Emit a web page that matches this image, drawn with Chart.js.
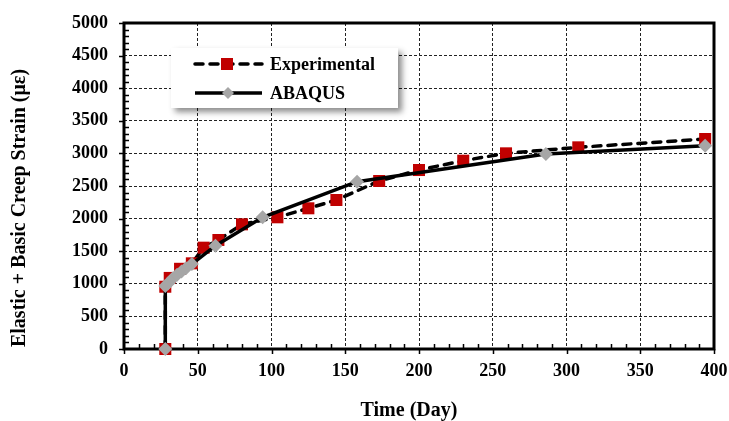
<!DOCTYPE html>
<html>
<head>
<meta charset="utf-8">
<script src="https://cdn.jsdelivr.net/npm/chart.js@4/dist/chart.umd.min.js"></script>
<style>
  html, body { margin: 0; padding: 0; background: #ffffff; }
  #wrap { width: 729px; height: 421px; }
</style>
</head>
<body>
<div id="wrap"><canvas id="c" width="729" height="421"></canvas></div>
<script>
// Measured strain history (days since casting, microstrain)
const expDays   = [28, 28, 31, 38, 46, 54, 64, 80, 104, 125, 144, 173, 200, 230, 259, 308, 394];
const expStrain = [0, 955, 1090, 1230, 1314, 1554, 1672, 1912, 2020, 2158, 2285, 2577, 2745, 2888, 3001, 3093, 3221];

// Finite element prediction
const abqDays   = [28, 28, 30, 33, 36, 39, 42, 46, 62, 94, 158, 286, 394];
const abqStrain = [0, 966, 1010, 1080, 1140, 1190, 1240, 1303, 1585, 2020, 2566, 2991, 3118];

const xTickValues = [0, 50, 100, 150, 200, 250, 300, 350, 400];
const yTickValues = [0, 500, 1000, 1500, 2000, 2500, 3000, 3500, 4000, 4500, 5000];

const seriesNames = ['Experimental', 'ABAQUS'];
const xTitle = 'Time (Day)';
const yTitle = 'Elastic + Basic Creep Strain (\u03BC\u03B5)';

const SERIF = '"Liberation Serif", "Times New Roman", serif';
const RED = '#C00000';
const GREY = '#A6A6A6';

const toPoints = (xs, ys) => xs.map((x, i) => ({ x: x, y: ys[i] }));

// Plot frame, outward major ticks and inward minor ticks
const framePlugin = {
  id: 'frame',
  beforeDatasetsDraw(chart) {
    const { ctx, chartArea: a, scales } = chart;
    const xs = scales.x, ys = scales.y;
    ctx.save();
    ctx.strokeStyle = '#000';
    ctx.lineWidth = 1.5;
    ctx.beginPath();
    yTickValues.forEach(v => {
      const py = Math.round(ys.getPixelForValue(v)) + 0.5;
      ctx.moveTo(a.left - 5, py); ctx.lineTo(a.left, py);
    });
    for (let v = 0; v <= 5000; v += 100) {
      if (v % 500 === 0) continue;
      const py = Math.round(ys.getPixelForValue(v)) + 0.5;
      ctx.moveTo(a.left, py); ctx.lineTo(a.left + 5, py);
    }
    xTickValues.forEach(v => {
      const px = Math.round(xs.getPixelForValue(v)) + 0.5;
      ctx.moveTo(px, a.bottom); ctx.lineTo(px, a.bottom + 5);
    });
    for (let v = 0; v <= 400; v += 10) {
      if (v % 50 === 0) continue;
      const px = Math.round(xs.getPixelForValue(v)) + 0.5;
      ctx.moveTo(px, a.bottom); ctx.lineTo(px, a.bottom - 5);
    }
    ctx.stroke();
    ctx.lineWidth = 3;
    ctx.strokeRect(a.left, a.top, a.right - a.left, a.bottom - a.top);
    ctx.restore();
  }
};

// Axis titles and the boxed legend with a drop shadow
const annotatePlugin = {
  id: 'annotate',
  afterDraw(chart) {
    const { ctx } = chart;
    ctx.save();
    ctx.fillStyle = '#000';
    ctx.font = 'bold 20px ' + SERIF;
    ctx.textAlign = 'center';
    ctx.textBaseline = 'middle';
    ctx.fillText(xTitle, 409, 411);

    ctx.save();
    ctx.translate(20, 208);
    ctx.rotate(-Math.PI / 2);
    ctx.font = 'bold 20px ' + SERIF;
    ctx.fillText(yTitle, 0, 0);
    ctx.restore();

    // legend box
    const bx = 171, by = 48, bw = 227, bh = 60;
    ctx.save();
    ctx.shadowColor = 'rgba(0,0,0,0.45)';
    ctx.shadowBlur = 6;
    ctx.shadowOffsetX = 4;
    ctx.shadowOffsetY = 4;
    ctx.fillStyle = '#fff';
    ctx.fillRect(bx, by, bw, bh);
    ctx.restore();

    const rows = [64, 93];
    const ds = chart.data.datasets;
    rows.forEach((ry, i) => {
      const d = ds[i];
      ctx.save();
      ctx.strokeStyle = '#000';
      ctx.lineWidth = 3.5;
      ctx.lineCap = d.borderCapStyle || 'butt';
      ctx.setLineDash(d.borderDash || []);
      ctx.beginPath();
      ctx.moveTo(195, ry); ctx.lineTo(262, ry);
      ctx.stroke();
      ctx.restore();
      ctx.fillStyle = d.pointBackgroundColor;
      if (d.pointStyle === 'rect') {
        ctx.fillRect(227 - 6, ry - 6, 12, 12);
      } else {
        ctx.beginPath();
        ctx.moveTo(228, ry - 6); ctx.lineTo(234, ry); ctx.lineTo(228, ry + 6); ctx.lineTo(222, ry);
        ctx.closePath(); ctx.fill();
      }
      ctx.fillStyle = '#000';
      ctx.font = 'bold 18px ' + SERIF;
      ctx.textAlign = 'left';
      ctx.textBaseline = 'middle';
      ctx.fillText(d.label, 270, ry + 1);
    });
    ctx.restore();
  }
};

const plainNumber = v => String(v);

new Chart(document.getElementById('c'), {
  type: 'scatter',
  data: {
    datasets: [
      {
        label: seriesNames[0],
        data: toPoints(expDays, expStrain),
        showLine: true,
        borderColor: '#000',
        borderWidth: 3.5,
        borderDash: [8, 7],
        borderCapStyle: 'round',
        pointStyle: 'rect',
        pointRadius: 8.5,
        pointHoverRadius: 8.5,
        pointBackgroundColor: RED,
        pointBorderWidth: 0,
        pointBorderColor: RED,
        clip: false,
        order: 2
      },
      {
        label: seriesNames[1],
        data: toPoints(abqDays, abqStrain),
        showLine: true,
        borderColor: '#000',
        borderWidth: 3.5,
        pointStyle: 'rectRot',
        pointRadius: 7,
        pointHoverRadius: 7,
        pointBackgroundColor: GREY,
        pointBorderWidth: 0,
        pointBorderColor: GREY,
        clip: false,
        order: 1
      }
    ]
  },
  options: {
    responsive: false,
    devicePixelRatio: 1,
    animation: false,
    layout: { padding: { top: 23, right: 15, left: 0, bottom: 0 } },
    plugins: {
      legend: { display: false },
      tooltip: { enabled: false }
    },
    scales: {
      x: {
        type: 'linear',
        min: 0,
        max: 400,
        afterBuildTicks(s) { s.ticks = xTickValues.map(v => ({ value: v })); },
        afterFit(s) { s.height = 72; s.paddingLeft = 0; s.paddingRight = 0; },
        ticks: {
          color: '#000',
          padding: 12,
          maxRotation: 0,
          callback: plainNumber,
          font: { family: SERIF, size: 18, weight: 'bold' }
        },
        grid: { color: '#222', lineWidth: 1, drawTicks: false },
        border: { display: false, dash: [3, 2] }
      },
      y: {
        type: 'linear',
        min: 0,
        max: 5000,
        afterBuildTicks(s) { s.ticks = yTickValues.map(v => ({ value: v })); },
        afterFit(s) { s.width = 124; s.paddingTop = 0; s.paddingBottom = 0; },
        ticks: {
          color: '#000',
          padding: 16,
          callback: plainNumber,
          font: { family: SERIF, size: 18, weight: 'bold' }
        },
        grid: { color: '#222', lineWidth: 1, drawTicks: false },
        border: { display: false, dash: [3, 2] }
      }
    }
  },
  plugins: [framePlugin, annotatePlugin]
});
</script>
</body>
</html>
